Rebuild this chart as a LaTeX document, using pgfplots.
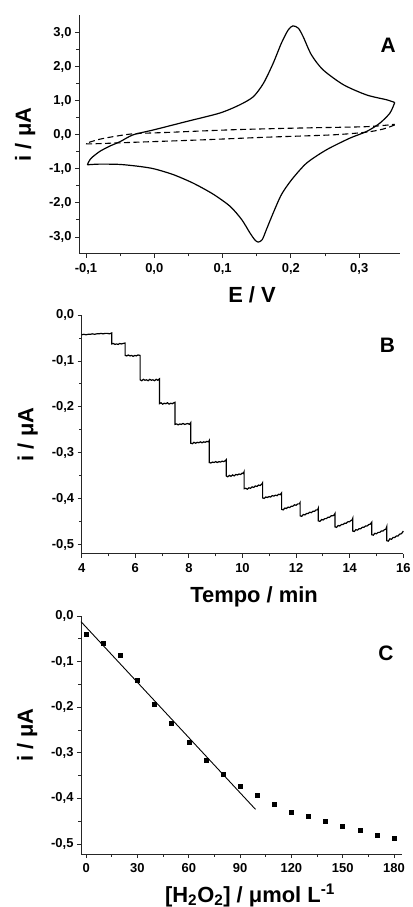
\documentclass[border=0pt]{standalone}
\usepackage{pgfplots}
\pgfplotsset{compat=1.18}
\usepackage{fontspec}
\setmainfont{Liberation Sans}

\newcommand{\tkf}{\bfseries\fontsize{13}{13}\selectfont}
\pgfplotsset{
  panel/.style={
    scale only axis,
    axis lines*=left,
    tick align=outside,
    major tick length=4bp,
    minor tick length=2.5bp,
    axis line style={line width=1bp, black!85},
    every tick/.style={line width=0.9bp, black!85},
    xticklabel style={yshift=-2bp},
    label style={font=\bfseries\fontsize{22}{22}\selectfont},
    scaled ticks=false,
    /pgf/number format/assume math mode=true,
    yticklabel={\tkf\pgfmathprintnumber[fixed, fixed zerofill, precision=1, use comma, assume math mode=true]{\tick}},
    ylabel style={at={(axis description cs:-0.168,0.5)}, anchor=center},
    clip=false,
  },
}

\begin{document}
\begin{tikzpicture}
\useasboundingbox (0,0) rectangle (413bp,907bp);

% ---------------- Panel A ----------------
\begin{axis}[panel,
  at={(79bp,653bp)}, anchor=south west,
  width=321bp, height=239bp,
  xmin=-0.1102, xmax=0.3597, ymin=-3.5, ymax=3.52,
  xtick={-0.1,0,0.1,0.2,0.3}, minor x tick num=1,
  ytick={-3,-2,-1,0,1,2,3}, minor y tick num=1,
  xticklabel={\tkf\pgfmathprintnumber[fixed, fixed zerofill, precision=1, use comma, assume math mode=true]{\tick}},
  xlabel={E / V}, ylabel={i / μA},
  xlabel style={at={(axis description cs:0.539,0)}, anchor=base, yshift=-49bp},
]
% upper branch
\addplot[black, line width=1.2bp, smooth, tension=0.45] coordinates {
(-0.098,-0.88) (-0.093,-0.70) (-0.080,-0.49) (-0.065,-0.33) (-0.050,-0.20) (-0.031,0.00)
(0.000,0.15) (0.047,0.39) (0.096,0.64) (0.125,0.88) (0.145,1.12) (0.160,1.52)
(0.174,2.10) (0.186,2.69) (0.196,3.08) (0.203,3.20) (0.211,3.13) (0.218,2.88)
(0.230,2.35) (0.247,1.91) (0.277,1.47) (0.311,1.17) (0.340,1.03) (0.352,0.95)
};
% lower branch
\addplot[black, line width=1.2bp, smooth, tension=0.45] coordinates {
(-0.098,-0.88) (-0.080,-0.86) (-0.050,-0.87) (-0.021,-0.93) (0.000,-1.00)
(0.028,-1.17) (0.057,-1.42) (0.086,-1.74) (0.111,-2.10) (0.128,-2.49)
(0.140,-2.88) (0.147,-3.08) (0.152,-3.15) (0.158,-3.08) (0.164,-2.79)
(0.174,-2.30) (0.186,-1.76) (0.201,-1.32) (0.223,-0.83) (0.252,-0.44)
(0.286,-0.10) (0.311,0.10) (0.330,0.34) (0.345,0.64) (0.352,0.95)
};
% blank (dashed)
\addplot[black, line width=1.1bp, dash pattern=on 6bp off 3.5bp, smooth, tension=0.45] coordinates {
(0.352,0.29) (0.335,0.17) (0.311,0.08) (0.262,0.00) (0.164,-0.07)
(0.067,-0.15) (-0.031,-0.22) (-0.084,-0.26) (-0.100,-0.26)
(-0.084,-0.15) (-0.065,-0.07) (-0.031,0.03) (0.018,0.07) (0.116,0.15)
(0.213,0.20) (0.311,0.24) (0.352,0.31)
};
\node[font=\bfseries\fontsize{21}{21}\selectfont] at (rel axis cs:0.963,0.872) {A};
\end{axis}

% ---------------- Panel B ----------------
\begin{axis}[panel,
  at={(81.7bp,353bp)}, anchor=south west,
  width=321.6bp, height=239bp,
  xmin=4, xmax=16, ymin=-0.52, ymax=0,
  xtick={4,6,...,16}, minor x tick num=1,
  ytick={-0.5,-0.4,-0.3,-0.2,-0.1,0}, minor y tick num=1,
  xticklabel={\tkf\pgfmathprintnumber[assume math mode=true]{\tick}},
  xlabel={Tempo / min}, ylabel={i / μA},
  xlabel style={at={(axis description cs:0.536,0)}, anchor=base, yshift=-49bp},
]
\addplot[black, line width=1.2bp] coordinates {
(4.00,-0.043) (4.08,-0.042) (4.16,-0.043) (4.24,-0.042) (4.32,-0.042) (4.40,-0.041) (4.48,-0.042) (4.56,-0.041) (4.64,-0.041) (4.72,-0.040) (4.80,-0.041) (4.88,-0.040) (4.96,-0.040) (5.04,-0.041) (5.12,-0.039)
(5.12,-0.063) (5.18,-0.062) (5.24,-0.064) (5.30,-0.063) (5.36,-0.064) (5.42,-0.062) (5.48,-0.063) (5.54,-0.062) (5.62,-0.061)
(5.62,-0.088) (5.68,-0.089) (5.74,-0.087) (5.80,-0.089) (5.86,-0.088) (5.92,-0.090) (5.98,-0.088) (6.04,-0.089) (6.10,-0.087) (6.18,-0.088)
(6.18,-0.141) (6.24,-0.143) (6.30,-0.140) (6.36,-0.142) (6.42,-0.141) (6.48,-0.143) (6.54,-0.140) (6.60,-0.142) (6.66,-0.141) (6.72,-0.143) (6.78,-0.140) (6.84,-0.142) (6.90,-0.139)
(6.90,-0.193) (6.96,-0.191) (7.02,-0.194) (7.08,-0.192) (7.14,-0.193) (7.20,-0.191) (7.26,-0.194) (7.32,-0.192) (7.38,-0.193) (7.44,-0.191) (7.48,-0.190)
(7.48,-0.238) (7.54,-0.237) (7.60,-0.239) (7.66,-0.237) (7.72,-0.238) (7.78,-0.236) (7.84,-0.238) (7.90,-0.237) (7.96,-0.236) (8.02,-0.238) (8.07,-0.234)
(8.07,-0.279) (8.13,-0.280) (8.19,-0.277) (8.25,-0.279) (8.31,-0.277) (8.37,-0.278) (8.43,-0.276) (8.49,-0.278) (8.55,-0.276) (8.61,-0.277) (8.67,-0.275) (8.73,-0.276) (8.76,-0.273)
(8.76,-0.321) (8.82,-0.322) (8.88,-0.320) (8.94,-0.321) (9.00,-0.319) (9.06,-0.321) (9.12,-0.319) (9.18,-0.320) (9.24,-0.318) (9.30,-0.319) (9.36,-0.317) (9.39,-0.315)
(9.39,-0.350) (9.45,-0.352) (9.51,-0.349) (9.57,-0.351) (9.63,-0.348) (9.69,-0.350) (9.75,-0.347) (9.81,-0.348) (9.87,-0.346) (9.93,-0.347) (9.99,-0.344) (10.03,-0.345) (10.06,-0.341)
(10.06,-0.378) (10.12,-0.377) (10.18,-0.379) (10.24,-0.376) (10.30,-0.377) (10.36,-0.374) (10.42,-0.375) (10.48,-0.372) (10.54,-0.373) (10.60,-0.370) (10.66,-0.371) (10.72,-0.368) (10.75,-0.365)
(10.75,-0.398) (10.81,-0.399) (10.87,-0.396) (10.93,-0.397) (10.99,-0.395) (11.05,-0.396) (11.11,-0.393) (11.17,-0.394) (11.23,-0.392) (11.29,-0.393) (11.35,-0.390) (11.41,-0.391) (11.46,-0.387)
(11.46,-0.423) (11.52,-0.424) (11.58,-0.420) (11.64,-0.421) (11.70,-0.418) (11.76,-0.419) (11.82,-0.416) (11.88,-0.416) (11.94,-0.413) (12.00,-0.414) (12.06,-0.411) (12.12,-0.411) (12.15,-0.408)
(12.15,-0.437) (12.21,-0.438) (12.27,-0.434) (12.33,-0.435) (12.39,-0.432) (12.45,-0.432) (12.51,-0.429) (12.57,-0.430) (12.63,-0.427) (12.69,-0.427) (12.75,-0.424) (12.80,-0.424) (12.83,-0.420)
(12.83,-0.448) (12.89,-0.449) (12.95,-0.445) (13.01,-0.446) (13.07,-0.443) (13.13,-0.443) (13.19,-0.440) (13.25,-0.440) (13.31,-0.437) (13.37,-0.437) (13.42,-0.435) (13.45,-0.432)
(13.45,-0.461) (13.51,-0.462) (13.57,-0.458) (13.63,-0.459) (13.69,-0.456) (13.75,-0.456) (13.81,-0.453) (13.87,-0.453) (13.93,-0.450) (13.99,-0.450) (14.05,-0.447) (14.09,-0.446) (14.11,-0.443)
(14.11,-0.470) (14.17,-0.471) (14.23,-0.467) (14.29,-0.468) (14.35,-0.465) (14.41,-0.465) (14.47,-0.462) (14.53,-0.462) (14.59,-0.459) (14.65,-0.459) (14.71,-0.456) (14.77,-0.455) (14.82,-0.451)
(14.82,-0.478) (14.88,-0.479) (14.94,-0.475) (15.00,-0.476) (15.06,-0.473) (15.12,-0.473) (15.18,-0.470) (15.24,-0.470) (15.30,-0.467) (15.35,-0.466) (15.38,-0.461)
(15.38,-0.491) (15.44,-0.492) (15.50,-0.487) (15.56,-0.488) (15.62,-0.484) (15.68,-0.484) (15.74,-0.481) (15.80,-0.481) (15.86,-0.477) (15.92,-0.476) (15.97,-0.473) (16.00,-0.470)
};
\node[font=\bfseries\fontsize{21}{21}\selectfont] at (rel axis cs:0.951,0.874) {B};
\end{axis}

% ---------------- Panel C ----------------
\begin{axis}[panel,
  at={(81bp,53bp)}, anchor=south west,
  width=320.7bp, height=238bp,
  xmin=-3, xmax=184.5, ymin=-0.522, ymax=0,
  xtick={0,30,...,180}, minor x tick num=1,
  ytick={-0.5,-0.4,-0.3,-0.2,-0.1,0}, minor y tick num=1,
  xticklabel={\tkf\pgfmathprintnumber[assume math mode=true]{\tick}},
  xlabel={[H\textsubscript{2}O\textsubscript{2}] / μmol L\textsuperscript{-1}}, ylabel={i / μA},
  xlabel style={at={(axis description cs:0.527,0)}, anchor=base, yshift=-48bp},
]
\addplot[only marks, mark=square*, mark size=2bp, black] coordinates {
(0,-0.039) (10,-0.059) (20,-0.087) (30,-0.140) (40,-0.193) (50,-0.236)
(60,-0.276) (70,-0.317) (80,-0.346) (90,-0.373) (100,-0.393) (110,-0.413)
(120,-0.430) (130,-0.439) (140,-0.451) (150,-0.460) (160,-0.469) (170,-0.480) (180,-0.487)
};
\addplot[black, line width=0.9bp] coordinates {(-3,-0.0124) (99,-0.424)};
\node[font=\bfseries\fontsize{21}{21}\selectfont] at (rel axis cs:0.951,0.845) {C};
\end{axis}
\end{tikzpicture}
\end{document}
